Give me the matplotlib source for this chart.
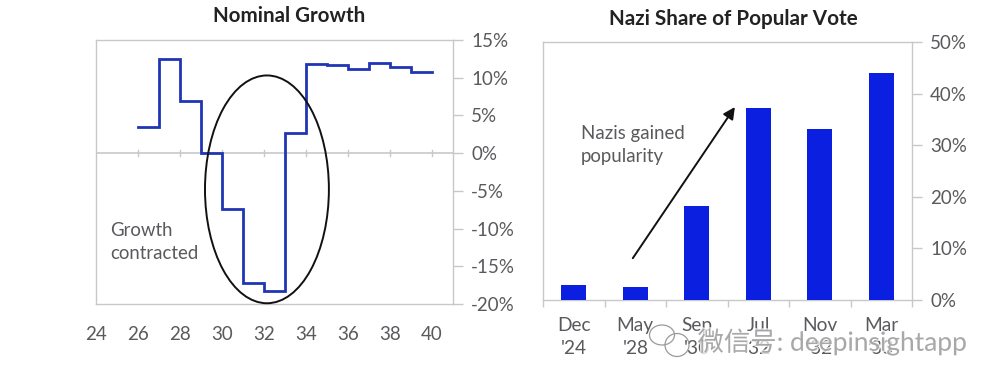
import matplotlib
matplotlib.use("Agg")
import matplotlib.pyplot as plt
import matplotlib.patheffects as pe
from matplotlib.patches import Ellipse

plt.rcParams['font.family'] = ['Lato', 'Noto Sans CJK SC', 'DejaVu Sans']

years = [26, 27, 28, 29, 30, 31, 32, 33, 34, 35, 36, 37, 38, 39, 40]
growth = [3.5, 12.5, 6.9, 0.0, -7.4, -17.2, -18.3, 2.7, 11.8, 11.7, 11.2, 11.9, 11.4, 10.8, 10.8]
year_ticks = [24, 26, 28, 30, 32, 34, 36, 38, 40]
growth_ticks = [-20, -15, -10, -5, 0, 5, 10, 15]

elections = ["Dec\n'24", "May\n'28", "Sep\n'30", "Jul\n'32", "Nov\n'32", "Mar\n'33"]
vote_share = [2.9, 2.6, 18.3, 37.3, 33.1, 43.9]
vote_ticks = [0, 10, 20, 30, 40, 50]

W, H = 1000, 386
GRID = '#c8c8cc'
TXT = '#5a5a5e'
BLUE = '#0a1fe0'
LINE = '#1f35b5'

fig = plt.figure(figsize=(W / 100, H / 100), dpi=100, facecolor='white')

def pixel_axes(x0, y0, x1, y1):
    return fig.add_axes([x0 / W, 1 - y1 / H, (x1 - x0) / W, (y1 - y0) / H])

def style(ax):
    for s in ax.spines.values():
        s.set_color(GRID)
        s.set_linewidth(1.0)
    ax.yaxis.tick_right()
    ax.tick_params(axis='y', colors=GRID, labelcolor=TXT, labelsize=13.5, length=7, width=1, pad=6)

# Left panel
ax1 = pixel_axes(96, 40, 453, 304)
style(ax1)
ax1.set_xlim(24, 41)
ax1.set_ylim(-20, 15)
ax1.step(years, growth, where='post', color=LINE, lw=2.0, solid_joinstyle='miter')
ax1.axhline(0, color=GRID, lw=1.2, zorder=1)
ax1.set_yticks(growth_ticks)
ax1.set_yticklabels([f'{v}%' for v in growth_ticks])
ax1.set_xticks(year_ticks)
ax1.set_xticklabels([str(v) for v in year_ticks])
ax1.tick_params(axis='x', length=0, labelcolor=TXT, labelsize=13.5, pad=16)
for y in year_ticks[1:]:
    ax1.plot([y, y], [-0.4, 0.4], color=GRID, lw=1, zorder=1)
ax1.add_patch(Ellipse((32.14, -4.8), 5.9, 30.2, fill=False, ec='#111111', lw=1.4, clip_on=False, zorder=4))
ax1.text(24.67, -11.75, 'Growth\ncontracted', color=TXT, fontsize=13.4, va='center', ha='left', linespacing=1.42)
fig.text(289 / W, 1 - 16 / H, 'Nominal Growth', fontsize=14.8, fontweight='bold', color='#222222', ha='center', va='center')

# Right panel
ax2 = pixel_axes(543, 42, 912, 300)
style(ax2)
ax2.set_xlim(-0.5, 5.5)
ax2.set_ylim(0, 50)
ax2.bar(range(len(vote_share)), vote_share, width=0.4, color=BLUE, zorder=3)
ax2.set_yticks(vote_ticks)
ax2.set_yticklabels([f'{v}%' for v in vote_ticks])
ax2.set_xticks([i - 0.5 for i in range(7)])
ax2.set_xticklabels([])
ax2.tick_params(axis='x', length=5, colors=GRID, width=1)
for i, lab in enumerate(elections):
    ax2.annotate(lab, (i, 0), xytext=(0, -12), textcoords='offset points', ha='center', va='top',
                 color=TXT, fontsize=13.8, linespacing=1.46, annotation_clip=False)
ax2.annotate('', xy=(2.62, 37.4), xytext=(0.96, 8.1),
             arrowprops=dict(arrowstyle='-|>,head_width=0.35,head_length=0.7', color='#111111', lw=1.4, shrinkA=0, shrinkB=0))
ax2.text(0.12, 30.1, 'Nazis gained\npopularity', color=TXT, fontsize=13.4, va='center', ha='left', linespacing=1.43)
fig.text(733 / W, 1 - 19 / H, 'Nazi Share of Popular Vote', fontsize=14.9, fontweight='bold', color='#222222', ha='center', va='center')

# Watermark
fig.text(967 / W, 1 - 342 / H, '微信号: deepinsightapp', fontsize=19, color='#808080', alpha=0.6,
         ha='right', va='center', zorder=10,
         path_effects=[pe.withStroke(linewidth=2.0, foreground='white', alpha=0.75)])
for cx, cy, w, h in [(662, 335, 25, 20), (677, 345, 24, 23)]:
    fig.add_artist(Ellipse((cx / W, 1 - cy / H), w / W, h / H, transform=fig.transFigure,
                           fill=False, ec='#9a9a9a', lw=0.9, zorder=9))

fig.savefig('out.png', dpi=100, facecolor='white')
